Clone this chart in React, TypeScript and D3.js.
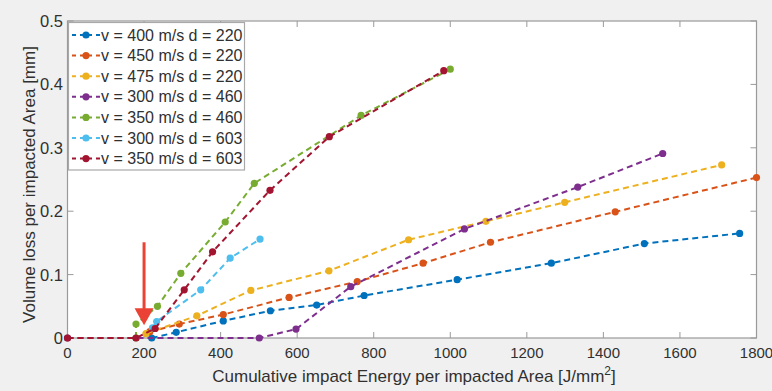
import React from "react";
import * as d3 from "d3";

type Pt = [number, number];

const seriesNames = [
  "v = 400 m/s d = 220",
  "v = 450 m/s d = 220",
  "v = 475 m/s d = 220",
  "v = 300 m/s d = 460",
  "v = 350 m/s d = 460",
  "v = 300 m/s d = 603",
  "v = 350 m/s d = 603",
];
const seriesColors = ["#0072BD", "#D95319", "#EDB120", "#7E2F8E", "#77AC30", "#4DBEEE", "#A2142F"];

const s400_220: Pt[] = [[220, 0], [284, 0.009], [407, 0.027], [530, 0.043], [651, 0.052], [775, 0.067], [1018, 0.092], [1264, 0.118], [1507, 0.149], [1756, 0.165]];
const s450_220: Pt[] = [[215, 0.01], [292, 0.022], [407, 0.037], [579, 0.064], [757, 0.089], [929, 0.118], [1105, 0.151], [1431, 0.199], [1800, 0.253]];
const s475_220: Pt[] = [[205, 0.007], [338, 0.035], [479, 0.075], [683, 0.106], [891, 0.155], [1093, 0.184], [1299, 0.214], [1709, 0.273]];
const s300_460: Pt[] = [[0, 0], [501, 0], [597, 0.014], [740, 0.081], [1037, 0.172], [1333, 0.238], [1555, 0.291]];
const s350_460: Pt[] = [[179, 0], [179, 0.022], [235, 0.05], [296, 0.102], [412, 0.183], [488, 0.244], [767, 0.351], [1000, 0.424]];
const s300_603: Pt[] = [[222, 0.016], [233, 0.026], [348, 0.076], [425, 0.126], [503, 0.156]];
const s350_603: Pt[] = [[0, 0], [179, 0], [229, 0.015], [305, 0.076], [379, 0.136], [529, 0.233], [684, 0.3175], [983, 0.4216]];

const allSeries = [s400_220, s450_220, s475_220, s300_460, s350_460, s300_603, s350_603];

const xTicks = [0, 200, 400, 600, 800, 1000, 1200, 1400, 1600, 1800];
const yTicks = [0, 0.1, 0.2, 0.3, 0.4, 0.5];
const yTickLabels = ["0", "0.1", "0.2", "0.3", "0.4", "0.5"];

const arrowX = 200;
const arrowYTop = 0.151;
const arrowYTip = 0.02;

const W = 772;
const H = 391;
const L = 67.5, R = 756.5, T = 21, B = 338;

export default function App() {
  const x = d3.scaleLinear().domain([0, 1800]).range([L, R]);
  const y = d3.scaleLinear().domain([0, 0.5]).range([B, T]);
  const line = d3.line<Pt>().x((d) => x(d[0])).y((d) => y(d[1]));
  const font = "'Liberation Sans', Arial, Helvetica, sans-serif";
  const textColor = "#303030";
  const axisColor = "#9a9a9a";
  const ax = x(arrowX);
  const headTop = y(arrowYTop) + 66;
  const tip = y(arrowYTip);

  const legX = 68.5, legY = 22.5, legW = 176, legH = 147.5, rowH = 20.6;

  return (
    <svg width={W} height={H} style={{ position: "absolute", left: 0, top: 0 }} fontFamily={font}>
      <rect x={0} y={0} width={W} height={H} fill="#f0f0f0" />
      <rect x={L} y={T} width={R - L} height={B - T} fill="#ffffff" />
      {xTicks.map((t) => (
        <g key={"xt" + t}>
          <line x1={x(t)} x2={x(t)} y1={B} y2={B - 6} stroke={axisColor} />
          <line x1={x(t)} x2={x(t)} y1={T} y2={T + 6} stroke={axisColor} />
          <text x={x(t)} y={358} textAnchor="middle" fontSize={15} fill={textColor}>{t}</text>
        </g>
      ))}
      {yTicks.map((t, i) => (
        <g key={"yt" + t}>
          <line x1={L} x2={L + 6} y1={y(t)} y2={y(t)} stroke={axisColor} />
          <line x1={R} x2={R - 6} y1={y(t)} y2={y(t)} stroke={axisColor} />
          <text x={63} y={y(t) + 6} textAnchor="end" fontSize={16.5} fill={textColor}>{yTickLabels[i]}</text>
        </g>
      ))}
      <rect x={L} y={T} width={R - L} height={B - T} fill="none" stroke={axisColor} strokeWidth={1.2} />
      {allSeries.map((s, i) => (
        <g key={"s" + i}>
          <path d={line(s) || ""} fill="none" stroke={seriesColors[i]} strokeWidth={2} strokeDasharray="6,4" />
          {s.map((p, j) => (
            <circle key={j} cx={x(p[0])} cy={y(p[1])} r={3.6} fill={seriesColors[i]} />
          ))}
        </g>
      ))}
      <line x1={ax} x2={ax} y1={y(arrowYTop)} y2={headTop + 2} stroke="#EA4335" strokeWidth={3} />
      <path d={`M${ax - 9.5},${headTop} L${ax + 9.5},${headTop} L${ax},${tip} Z`} fill="#EA4335" />
      <rect x={legX} y={legY} width={legW} height={legH} fill="#ffffff" stroke="#a8a8a8" strokeWidth={1.2} />
      {seriesNames.map((n, i) => {
        const cy = 35 + i * rowH;
        return (
          <g key={"lg" + i}>
            <line x1={71} x2={100} y1={cy} y2={cy} stroke={seriesColors[i]} strokeWidth={2} strokeDasharray="4,4" strokeDashoffset={-1} />
            <circle cx={86} cy={cy} r={3.6} fill={seriesColors[i]} />
            <text x={101} y={cy + 5.5} fontSize={16} fill={textColor}>{n}</text>
          </g>
        );
      })}
      <text x={(L + R) / 2 + 2} y={382} textAnchor="middle" fontSize={17} fill={textColor}>
        Cumulative impact Energy per impacted Area [J/mm
        <tspan dy={-7} fontSize={12}>2</tspan>
        <tspan dy={7}>]</tspan>
      </text>
      <text transform={`translate(35,${(T + B) / 2 + 5}) rotate(-90)`} textAnchor="middle" fontSize={17} fill={textColor}>
        Volume loss per impacted Area [mm]
      </text>
    </svg>
  );
}
